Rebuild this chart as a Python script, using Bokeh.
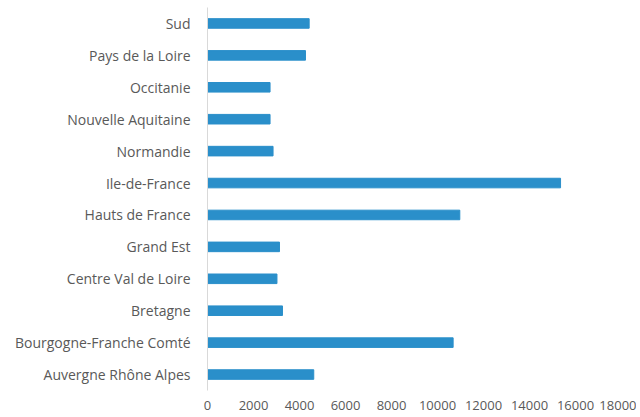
from bokeh.plotting import figure
from bokeh.models import ColumnDataSource, FactorRange, Range1d, FixedTicker
from bokeh.embed import file_html
from bokeh.resources import INLINE

regions = [
    "Auvergne Rhône Alpes",
    "Bourgogne-Franche Comté",
    "Bretagne",
    "Centre Val de Loire",
    "Grand Est",
    "Hauts de France",
    "Ile-de-France",
    "Normandie",
    "Nouvelle Aquitaine",
    "Occitanie",
    "Pays de la Loire",
    "Sud",
]
values = [4620, 10680, 3260, 3020, 3130, 10970, 15350, 2850, 2720, 2720, 4260, 4420]
x_ticks = [0, 2000, 4000, 6000, 8000, 10000, 12000, 14000, 16000, 18000]

source = ColumnDataSource(data=dict(region=regions, value=values))

p = figure(
    width=636, height=412,
    y_range=FactorRange(*regions, range_padding=0),
    x_range=Range1d(0, 18000),
    output_backend="svg", toolbar_location=None,
    min_border_top=7, min_border_bottom=0, min_border_left=207, min_border_right=15,
)
p.hbar(y="region", right="value", height=0.3, left=0, source=source,
       fill_color="#2A8FCA", line_color="#2A8FCA")

p.outline_line_color = None
p.xgrid.grid_line_color = None
p.ygrid.grid_line_color = None

font = "Open Sans"
p.xaxis.ticker = FixedTicker(ticks=x_ticks)
p.xaxis.axis_line_color = None
p.xaxis.major_tick_line_color = None
p.xaxis.minor_tick_line_color = None
p.xaxis.major_label_standoff = 4
p.xaxis.major_label_text_font = font
p.xaxis.major_label_text_font_size = "13px"
p.xaxis.major_label_text_color = "#595959"

p.yaxis.axis_line_color = "#D9D9D9"
p.yaxis.axis_line_width = 1
p.yaxis.major_tick_line_color = None
p.yaxis.minor_tick_line_color = None
p.yaxis.major_label_standoff = 11
p.yaxis.major_label_text_font = font
p.yaxis.major_label_text_font_size = "14px"
p.yaxis.major_label_text_color = "#595959"

open("out.html", "w").write(file_html(p, INLINE))
